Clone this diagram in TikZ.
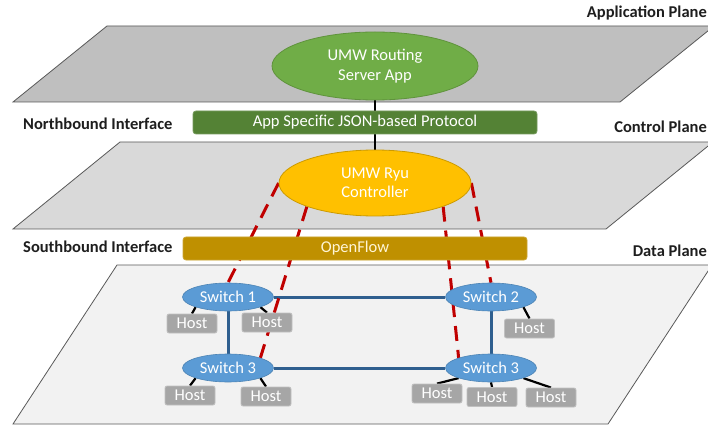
\documentclass[tikz,border=0pt]{standalone}
\usepackage{fontspec}
\setmainfont{Carlito}
\usetikzlibrary{shapes.geometric}
\pgfdeclarelayer{planes}
\pgfdeclarelayer{links}
\pgfsetlayers{planes,links,main}
\definecolor{appgray}{HTML}{BFBFBF}
\definecolor{ctlgray}{HTML}{D9D9D9}
\definecolor{datgray}{HTML}{F2F2F2}
\definecolor{edgegray}{HTML}{595959}
\definecolor{appgreen}{HTML}{70AD47}
\definecolor{nbgreen}{HTML}{548235}
\definecolor{ryu}{HTML}{FFC000}
\definecolor{ofgold}{HTML}{BF9000}
\definecolor{oftext}{HTML}{FFF5D6}
\definecolor{swblue}{HTML}{5B9BD5}
\definecolor{linkblue}{HTML}{2F5F8F}
\definecolor{hostgray}{HTML}{A6A6A6}
\definecolor{ctrlred}{HTML}{C00000}
\definecolor{lbltext}{HTML}{1E1E1E}
\tikzset{
  txt/.style={font=\fontsize{16.5}{19.5}\selectfont},
  plane/.style={draw=edgegray, line width=0.8pt},
  lbl/.style={font=\bfseries\fontsize{16.5}{19.5}\selectfont, text=lbltext, inner sep=0pt},
  bigell/.style={ellipse, txt, text=white, align=center, inner sep=0pt, line width=0.8pt},
  bar/.style={rectangle, rounded corners=3pt, txt, inner sep=0pt, minimum width=344pt, minimum height=23pt, line width=0.8pt},
  switchnode/.style={ellipse, txt, text=white, fill=swblue, draw=swblue!85!black, line width=0.6pt, inner sep=0pt, minimum width=91pt, minimum height=28pt},
  hostnode/.style={rectangle, rounded corners=2pt, txt, text=white, fill=hostgray, draw=hostgray!70!white, line width=0.8pt, inner sep=0pt, minimum width=50pt, minimum height=19pt},
  swlink/.style={draw=linkblue, line width=3pt},
  hostlink/.style={draw=black, line width=2.2pt},
  ctllink/.style={draw=ctrlred, line width=3pt, dash pattern=on 15pt off 9pt},
  applink/.style={draw=black, line width=2.5pt}
}
\begin{document}
\begin{tikzpicture}[x=1pt,y=-1pt]
\useasboundingbox (0,0) rectangle (708,427);
\begin{pgfonlayer}{planes}
  \fill[white] (0,0) rectangle (708,427);
  \clip (0,0) rectangle (708,427);
  \draw[plane, fill=appgray] (13,102) -- (620,102) -- (714,26) -- (107,26) -- cycle;
  \draw[plane, fill=ctlgray] (13,229) -- (606,229) -- (713,142) -- (120,142) -- cycle;
  \draw[plane, fill=datgray] (13,424) -- (608,424) -- (712,265) -- (117,265) -- cycle;
\end{pgfonlayer}

% labels
\node[lbl, anchor=base east] (lapp) at (707,18) {Application Plane};
\node[lbl, anchor=base east] (lctl) at (707,133) {Control Plane};
\node[lbl, anchor=base east] (ldat) at (707,257) {Data Plane};
\node[lbl, anchor=base west] (lnb) at (23,130) {Northbound Interface};
\node[lbl, anchor=base west] (lsb) at (23,253) {Southbound Interface};

% main nodes
\node[bigell, fill=appgreen, draw=appgreen!85!black, minimum width=206pt, minimum height=68pt] (app) at (375,66) {UMW Routing\\Server App};
\node[bar, fill=nbgreen, draw=nbgreen!80!white, text=white] (nb) at (365,122.5) {App Specific JSON-based Protocol};
\node[bigell, fill=ryu, draw=ofgold!80!ryu, minimum width=192pt, minimum height=66pt] (ctrl) at (375,183) {UMW Ryu\\Controller};
\node[bar, fill=ofgold, draw=ofgold!80!white, text=oftext] (of) at (355,248.5) {OpenFlow};

% switches
\node[switchnode] (s1) at (228,297) {Switch 1};
\node[switchnode] (s2) at (491,297) {Switch 2};
\node[switchnode] (s3l) at (228,368) {Switch 3};
\node[switchnode] (s3r) at (491,368) {Switch 3};

% hosts
\node[hostnode] (h1) at (192,323.5) {Host};
\node[hostnode] (h2) at (267,322.5) {Host};
\node[hostnode] (h3) at (529.5,328.5) {Host};
\node[hostnode] (h4) at (190,395.5) {Host};
\node[hostnode] (h5) at (266,396.5) {Host};
\node[hostnode] (h6) at (437,393.5) {Host};
\node[hostnode] (h7) at (492,397) {Host};
\node[hostnode] (h8) at (551,397.5) {Host};

\begin{pgfonlayer}{links}
  \draw[applink] (app.south) -- (ctrl.north);
  \draw[swlink] (s1) -- (s2);
  \draw[swlink] (s1) -- (s3l);
  \draw[swlink] (s2) -- (s3r);
  \draw[swlink] (s3l) -- (s3r);
  \draw[hostlink] (s1.south west) -- (h1.north);
  \draw[hostlink] (s1.south east) -- (h2.north);
  \draw[hostlink] (s2.south east) -- (h3.north);
  \draw[hostlink] (s3l.south west) -- (h4.north);
  \draw[hostlink] (s3l.south east) -- (h5.north);
  \draw[hostlink] (s3r.south west) -- (h6.north);
  \draw[hostlink] (s3r.south) -- (h7.north);
  \draw[hostlink] (s3r.south east) -- (h8.north);
  \draw[ctllink] (ctrl.west) -- (s1.north);
  \draw[ctllink] (ctrl.south west) -- (s3l.north east);
  \draw[ctllink] (ctrl.south east) -- (s3r.north west);
  \draw[ctllink] (ctrl.east) -- (s2.north);
\end{pgfonlayer}
\end{tikzpicture}
\end{document}
